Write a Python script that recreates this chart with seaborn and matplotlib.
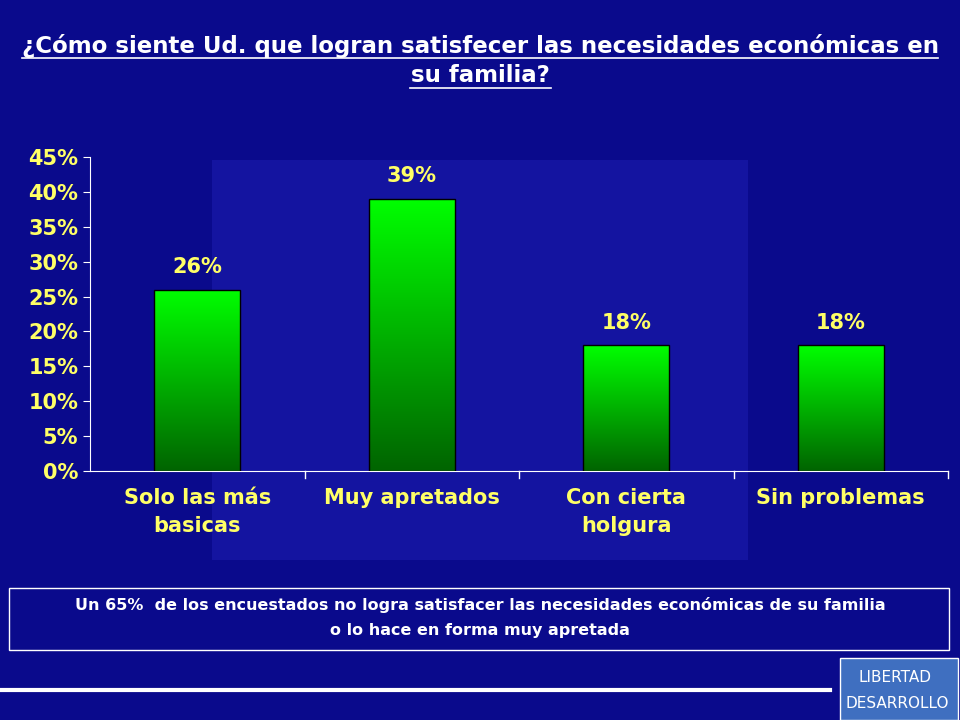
import matplotlib
matplotlib.use("Agg")
import matplotlib.pyplot as plt
import seaborn as sns
import numpy as np
from matplotlib.colors import LinearSegmentedColormap
from matplotlib.patches import Rectangle

categories = ["Solo las más\nbasicas", "Muy apretados", "Con cierta\nholgura", "Sin problemas"]
values = [26, 39, 18, 18]
labels = ["26%", "39%", "18%", "18%"]
yticks = [0, 5, 10, 15, 20, 25, 30, 35, 40, 45]

bg = "#0a0a8c"
fig = plt.figure(figsize=(9.6, 7.2), dpi=100, facecolor=bg)
bgax = fig.add_axes([0, 0, 1, 1], zorder=-5)
bgax.set_xlim(0, 960); bgax.set_ylim(720, 0); bgax.axis("off")
bgax.add_patch(Rectangle((212, 160), 536, 400, facecolor="#1414a0", edgecolor="none"))
bgax.add_patch(Rectangle((9, 588), 940, 62, facecolor=bg, edgecolor="white", lw=1))
bgax.plot([0, 830], [690, 690], color="white", lw=3)
bgax.add_patch(Rectangle((840, 658), 118, 62, facecolor="#3f6fc0", edgecolor="white", lw=1))
bgax.plot([22, 938], [58, 58], color="white", lw=1.2)
bgax.plot([410, 551], [88, 88], color="white", lw=1.2)

ax = fig.add_axes([90/960, 1-471/720, (948-90)/960, (471-157)/720], zorder=1)
ax.set_facecolor("none")
sns.barplot(x=list(range(4)), y=values, ax=ax, width=0.4, color="#00ff00", edgecolor="black", linewidth=1)
cmap = LinearSegmentedColormap.from_list("g", ["#006400", "#00ff00"])
grad = np.linspace(0, 1, 256).reshape(-1, 1)
for p in ax.patches:
    x0, w, h = p.get_x(), p.get_width(), p.get_height()
    im = ax.imshow(grad, extent=[x0, x0 + w, 0, h], origin="lower", aspect="auto", cmap=cmap, zorder=2)
    im.set_clip_path(p)
    p.set_facecolor("none"); p.set_zorder(3)
for i, (v, l) in enumerate(zip(values, labels)):
    ax.text(i, v + 1.8, l, ha="center", va="bottom", color="#ffff66", fontsize=15, fontweight="bold")
ax.set_xlim(-0.5, 3.5)
ax.set_ylim(0, 45)
ax.set_yticks(yticks)
ax.set_yticklabels([f"{t}%" for t in yticks], color="#ffff66", fontsize=15, fontweight="bold")
ax.set_xticks(range(4))
ax.set_xticklabels(categories, color="#ffff66", fontsize=15, fontweight="bold", linespacing=1.5)
ax.tick_params(axis="y", colors="white", labelcolor="#ffff66", direction="out", length=5)
ax.tick_params(axis="x", length=0, pad=12)
for s in ["top", "right"]:
    ax.spines[s].set_visible(False)
ax.spines["left"].set_color("white"); ax.spines["bottom"].set_color("white")
for xb in [0.5, 1.5, 2.5, 3.5]:
    ax.plot([xb, xb], [0, -1.0], color="white", lw=1, clip_on=False)

fig.text(0.5, 1-46/720, "¿Cómo siente Ud. que logran satisfecer las necesidades económicas en", ha="center",
         va="center", color="white", fontsize=16.5, fontweight="bold")
fig.text(0.5, 1-76/720, "su familia?", ha="center", va="center", color="white", fontsize=16.5, fontweight="bold")
fig.text(480/960, 1-605/720, "Un 65%  de los encuestados no logra satisfacer las necesidades económicas de su familia",
         ha="center", va="center", color="white", fontsize=11.5, fontweight="bold")
fig.text(480/960, 1-630/720, "o lo hace en forma muy apretada", ha="center", va="center", color="white",
         fontsize=11.5, fontweight="bold")
fig.text(895/960, 1-678/720, "LIBERTAD", ha="center", va="center", color="white", fontsize=11)
fig.text(897/960, 1-703/720, "DESARROLLO", ha="center", va="center", color="white", fontsize=11)
fig.savefig("out.png", dpi=100, facecolor=bg)
